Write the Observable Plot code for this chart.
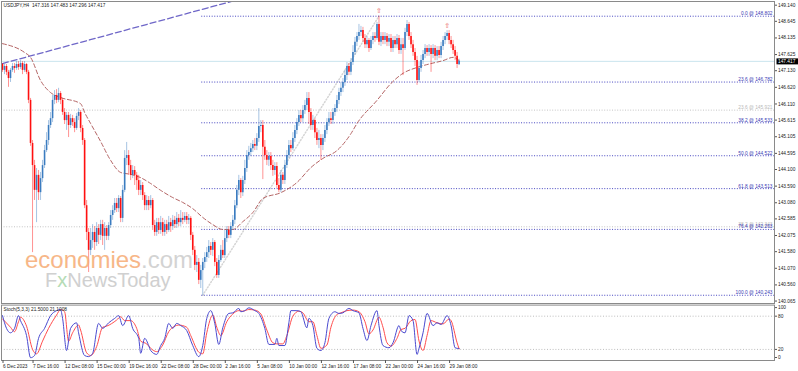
<!DOCTYPE html>
<html><head><meta charset="utf-8">
<script src="https://cdn.jsdelivr.net/npm/d3@7"></script>
<script src="https://cdn.jsdelivr.net/npm/@observablehq/plot@0.6"></script>
<style>
html,body{margin:0;padding:0;background:#fff}
#wrap{position:relative;width:798px;height:371px;overflow:hidden;background:#fff}
#main{position:absolute;left:0;top:0}
#stoch{position:absolute;left:0;top:303px}
#wm{position:absolute;left:0;top:0;pointer-events:none}
svg{overflow:visible}
</style></head><body>
<div id="wrap"><div id="main"></div><div id="stoch"></div><svg id="wm" width="798" height="371"></svg></div>
<script>
// ---- candle data (USDJPY H4) ----
const symbol = "USDJPY,H4";
const open = [147.32,147.14,147.26,147.08,146.89,147.14,147.26,147.20,147.32,147.23,147.35,147.14,147.32,147.08,146.22,144.90,144.22,143.46,143.92,143.39,
143.82,144.22,144.68,144.99,145.45,145.66,146.22,146.37,146.22,146.43,146.22,145.85,145.60,145.76,145.45,145.66,145.54,145.36,145.73,145.85,
145.36,144.99,142.99,142.17,141.62,141.92,142.17,141.86,142.29,142.08,142.41,142.05,142.29,142.05,142.38,142.69,142.84,143.06,142.90,143.21,
142.60,143.46,144.44,144.53,144.22,143.92,144.07,143.92,143.76,143.46,143.61,143.30,142.99,143.15,142.99,143.15,142.38,142.17,142.47,142.23,
142.47,142.17,142.41,142.23,142.47,142.35,142.54,142.41,142.60,142.47,142.60,142.54,142.66,142.54,142.60,142.08,141.62,141.16,141.25,140.70,
141.00,141.25,141.40,141.55,141.74,141.62,141.86,141.25,140.85,141.31,141.62,141.46,141.98,142.23,142.08,142.35,142.54,142.99,143.46,143.76,
143.39,143.76,144.13,144.53,144.62,144.74,144.87,144.81,145.05,145.42,145.45,144.78,144.53,144.38,144.50,144.22,144.07,144.19,143.61,143.46,
143.92,143.76,144.22,144.53,144.84,144.74,145.05,145.30,145.54,145.76,145.66,145.91,146.06,146.28,145.85,145.45,145.60,145.23,144.99,145.05,
144.84,145.05,145.30,145.54,145.66,145.60,145.85,145.97,146.22,146.46,146.59,146.77,146.98,147.26,147.08,147.38,147.69,148.00,148.18,148.30,
148.36,148.12,147.93,148.06,147.81,148.06,148.18,148.12,148.55,148.00,148.18,148.06,148.18,148.00,148.12,147.81,148.06,147.93,148.12,147.75,
147.93,147.81,148.30,148.55,148.18,147.93,147.69,147.44,146.83,147.20,147.44,147.63,147.81,147.69,147.81,147.63,147.81,147.57,147.75,147.60,
147.87,148.06,148.18,148.27,148.06,147.93,147.75,147.57,147.316];
const high = [147.35,147.32,147.32,147.14,147.20,147.35,147.35,147.41,147.41,147.44,147.41,147.41,147.35,147.14,146.28,144.99,144.38,144.13,144.07,144.01,
144.38,144.84,145.23,145.60,145.85,146.37,146.52,146.55,146.59,146.49,146.28,145.97,145.85,145.85,145.79,145.76,145.66,145.82,145.97,145.91,
145.45,145.05,143.15,142.29,142.29,142.41,142.35,142.47,142.41,142.54,142.54,142.47,142.38,142.47,142.84,142.99,143.21,143.21,143.30,143.27,
143.61,144.68,144.93,144.68,144.38,144.22,144.19,144.01,143.92,143.76,143.70,143.39,143.30,143.27,143.30,143.21,142.54,142.60,142.60,142.66,
142.60,142.54,142.54,142.66,142.60,142.69,142.66,142.78,142.72,142.84,142.78,142.78,142.78,142.72,142.66,142.17,141.74,141.46,141.37,141.16,
141.37,141.55,141.71,141.92,141.86,141.98,141.92,141.37,141.46,141.77,141.92,142.23,142.35,142.35,142.47,142.69,143.15,143.61,143.92,143.82,
143.89,144.38,144.68,144.81,144.90,144.99,145.05,145.20,145.97,145.60,145.60,144.99,144.68,144.62,144.62,144.38,144.31,144.31,143.82,144.07,
144.01,144.38,144.68,144.99,144.99,145.23,145.45,145.66,145.91,145.91,146.06,146.22,146.46,146.46,145.97,145.76,145.66,145.36,145.30,145.17,
145.17,145.45,145.66,145.85,145.85,145.97,146.09,146.37,146.59,146.77,146.89,147.14,147.38,147.35,147.50,147.90,148.15,148.30,148.55,148.49,
148.46,148.24,148.18,148.12,148.18,148.30,148.30,148.61,148.802,148.30,148.30,148.30,148.27,148.24,148.24,148.18,148.18,148.24,148.21,148.12,
148.12,148.43,148.67,148.61,148.30,148.06,147.81,147.57,147.38,147.60,147.75,147.93,147.90,147.93,147.90,147.93,147.90,147.87,147.87,148.00,
148.18,148.30,148.36,148.36,148.18,148.06,147.87,147.69,147.483];
const low = [147.08,147.01,146.98,146.62,146.77,147.08,147.05,147.14,147.14,147.17,147.01,147.08,147.01,146.12,144.81,141.55,143.15,142.47,143.15,143.15,
143.70,144.13,144.62,144.84,145.36,145.54,146.09,146.12,146.15,146.09,145.76,145.48,145.30,145.08,145.36,145.42,145.23,145.30,145.60,145.23,
144.84,142.90,141.92,140.94,141.46,141.68,141.62,141.74,141.80,141.92,141.77,141.62,141.92,141.92,142.29,142.54,142.75,142.78,142.78,142.47,
142.47,143.39,144.22,143.92,143.76,143.82,143.61,143.46,143.30,143.30,143.15,142.84,142.84,142.84,142.90,142.23,142.05,142.05,142.11,142.11,
142.05,142.05,142.11,142.17,142.17,142.23,142.29,142.29,142.35,142.35,142.41,142.47,142.41,142.41,141.92,141.46,141.00,140.94,140.57,140.45,
140.243,141.06,141.25,141.37,141.46,141.43,141.12,140.76,140.76,141.25,141.37,141.37,141.86,141.98,141.98,142.23,142.41,142.90,143.30,143.21,
143.27,143.64,144.01,144.38,144.50,144.62,144.68,144.68,144.93,145.23,143.79,144.38,144.22,144.19,144.07,143.89,143.92,143.52,143.39,143.39,
143.64,143.64,144.13,144.44,144.62,144.68,144.93,145.17,145.42,145.54,145.54,145.79,145.91,145.48,145.30,145.30,145.05,144.84,144.74,144.38,
144.68,144.93,145.17,145.42,145.48,145.48,145.73,145.85,146.09,146.34,146.46,146.65,146.83,146.98,146.98,147.29,147.60,147.87,148.06,148.18,
148.00,147.81,147.81,147.69,147.75,147.93,148.00,148.06,147.90,147.87,147.93,147.93,147.87,147.87,147.69,147.69,147.81,147.81,147.63,147.63,
146.98,147.75,148.18,148.06,147.81,147.57,147.26,146.68,146.77,147.08,147.32,147.50,147.57,147.57,147.08,147.50,147.44,147.44,147.50,147.50,
147.75,147.93,148.06,147.93,147.81,147.63,147.44,147.20,147.296];
const close = [147.14,147.26,147.08,146.89,147.14,147.26,147.20,147.32,147.23,147.35,147.14,147.32,147.08,146.22,144.90,144.22,143.46,143.92,143.39,143.82,
144.22,144.68,144.99,145.45,145.66,146.22,146.37,146.22,146.43,146.22,145.85,145.60,145.76,145.45,145.66,145.54,145.36,145.73,145.85,145.36,
144.99,142.99,142.17,141.62,141.92,142.17,141.86,142.29,142.08,142.41,142.05,142.29,142.05,142.38,142.69,142.84,143.06,142.90,143.21,142.60,
143.46,144.44,144.53,144.22,143.92,144.07,143.92,143.76,143.46,143.61,143.30,142.99,143.15,142.99,143.15,142.38,142.17,142.47,142.23,142.47,
142.17,142.41,142.23,142.47,142.35,142.54,142.41,142.60,142.47,142.60,142.54,142.66,142.54,142.60,142.08,141.62,141.16,141.25,140.70,141.00,
141.25,141.40,141.55,141.74,141.62,141.86,141.25,140.85,141.31,141.62,141.46,141.98,142.23,142.08,142.35,142.54,142.99,143.46,143.76,143.39,
143.76,144.13,144.53,144.62,144.74,144.87,144.81,145.05,145.42,145.45,144.78,144.53,144.38,144.50,144.22,144.07,144.19,143.61,143.46,143.92,
143.76,144.22,144.53,144.84,144.74,145.05,145.30,145.54,145.76,145.66,145.91,146.06,146.28,145.85,145.45,145.60,145.23,144.99,145.05,144.84,
145.05,145.30,145.54,145.66,145.60,145.85,145.97,146.22,146.46,146.59,146.77,146.98,147.26,147.08,147.38,147.69,148.00,148.18,148.30,148.36,
148.12,147.93,148.06,147.81,148.06,148.18,148.12,148.55,148.00,148.18,148.06,148.18,148.00,148.12,147.81,148.06,147.93,148.12,147.75,147.93,
147.81,148.30,148.55,148.18,147.93,147.69,147.44,146.83,147.20,147.44,147.63,147.81,147.69,147.81,147.63,147.81,147.57,147.75,147.60,147.87,
148.06,148.18,148.27,148.06,147.93,147.75,147.57,147.32,147.417];

// moving average (read at points)
const maIdx = [0,11,14,19,24,29,39,41,44,49,54,59,64,69,74,79,85,90,95,100,105,110,115,120,125,130,139,147,154,160,167,174,177,187,194,200,207,214,220,225,228];
const maVal = [147.96,147.69,147.54,146.83,146.46,146.31,146.12,145.85,145.51,144.96,144.38,144.01,143.95,143.85,143.67,143.46,143.24,143.09,142.90,142.63,142.41,142.26,142.26,142.50,142.78,143.21,143.39,143.70,144.16,144.44,144.68,145.20,145.51,146.22,146.74,147.05,147.23,147.35,147.44,147.54,147.44];

// trend line
const trendIdx = [0, 120];
const trendVal = [147.35, 149.35];

// Fibonacci retracement
const fibLevels = [0.0, 23.6, 38.2, 50.0, 61.8, 76.4, 100.0];
const fibPrices = [148.802, 146.782, 145.533, 144.522, 143.513, 142.263, 140.243];
const fibLowIdx = 100, fibHighIdx = 188, fibStartIdx = 99.5;
const oldFibLevels = [23.6, 38.2];
const oldFibPrices = [145.921, 142.343];

const fractalIdx = [188, 222];

// stochastic (5,3,3)
const kIdx = [0,2,4,6,8,9,12,14,16,18,21,24,27,29,30,32,34,37,38,41,43,45,48,50,53,56,58,60,63,65,68,69,71,73,74,77,79,81,83,85,87,89,92,95,98,100,102,104,106,108,110,113,115,118,119,121,123,126,128,131,133,136,137,138,141,143,144,147,149,152,153,155,157,159,161,163,166,168,170,173,175,178,180,182,184,187,188,190,193,195,198,199,201,203,205,207,208,210,212,215,217,219,222,224,226,227,228];
const kVal = [81,58,50,58,81,72,45,5,9,40,58,81,90,92,76,18,58,68,50,9,7,13,67,58,68,76,81,63,81,58,40,13,40,27,18,11,27,40,67,58,67,63,54,27,7,27,76,90,67,29,59,85,86,94,88,90,95,90,85,58,29,29,40,27,27,68,90,90,88,59,76,63,22,18,32,76,88,85,86,94,90,86,58,36,63,90,63,27,23,32,63,54,50,81,72,11,22,50,85,63,68,65,81,63,23,22,21.5];
const dIdx = [0,4,6,8,9,12,15,17,20,23,27,29,31,33,35,38,39,42,44,47,50,52,57,59,61,64,67,69,72,74,77,80,83,86,88,92,94,98,100,102,105,107,109,112,115,118,120,123,126,129,132,135,137,140,142,145,148,150,153,155,157,159,162,164,167,169,172,175,178,181,183,185,188,190,192,194,197,199,201,204,206,208,210,212,214,217,220,223,224,227,228];
const dVal = [75,60,52,70,78,62,20,12,35,58,82,92,88,35,50,64,55,14,9,25,60,62,73,79,72,72,58,35,30,22,16,28,52,62,64,60,45,15,12,50,82,60,45,70,84,90,89,92,91,84,55,32,30,30,45,80,89,86,70,70,45,22,28,60,83,86,90,91,88,70,48,55,78,60,32,26,40,56,58,72,74,35,18,45,72,68,66,75,72,32,21.1008];
const stochLevels = [80, 20];

// axes
const yTicks = [149.140,148.645,148.135,147.625,147.130,146.620,146.110,145.615,145.105,144.595,144.100,143.590,143.080,142.585,142.075,141.580,141.070,140.560,140.065];
const tickIdx = [0,15,31,47,63,79,95,111,127,143,159,175,191,207,223];
const tickLabels = ["6 Dec 2023","7 Dec 16:00","12 Dec 08:00","15 Dec 00:00","19 Dec 16:00","22 Dec 08:00","28 Dec 00:00","2 Jan 16:00","5 Jan 08:00","10 Jan 00:00","12 Jan 16:00","17 Jan 08:00","22 Jan 00:00","24 Jan 16:00","29 Jan 08:00"];

// ---- fonts ----
function hasFont(name){
  const c=document.createElement("canvas").getContext("2d");
  const s="abcdefghijklmnop 0123456789 WMQ";
  c.font="20px monospace"; const a=c.measureText(s).width;
  c.font=`20px "${name}", monospace`; const b=c.measureText(s).width;
  return Math.abs(a-b)>0.5;
}
const narrow = hasFont("Liberation Sans Narrow");
const FF = narrow ? "'Liberation Sans Narrow'" : "'Liberation Sans'";
const FS = narrow ? 5.8 : 4.8;

const n = close.length;
const bars = close.map((c,i)=>({i, o:open[i], h:high[i], l:low[i], c, up:c>=open[i]}));
const UP="#3b7cc0", DN="#ff1010";
const xDom=[-0.5,385.5];
const ma = maIdx.map((i,k)=>({i, v:maVal[k]}));
const trend = trendIdx.map((i,k)=>({i, v:trendVal[k]}));
const fib = fibLevels.map((lv,k)=>({lv, p:fibPrices[k]}));
const oldFib = oldFibLevels.map((lv,k)=>({lv, p:oldFibPrices[k]}));
const fibDiag = [{i:fibLowIdx, v:fibPrices[fibPrices.length-1]},{i:fibHighIdx, v:fibPrices[0]}];
const last = n-1;
const header = `${symbol}  ${open[last].toFixed(3)} ${high[last].toFixed(3)} ${low[last].toFixed(3)} ${close[last].toFixed(3)}`;

const main = Plot.plot({
  width:798, height:304, marginLeft:1, marginRight:24, marginTop:1, marginBottom:1,
  x:{domain:xDom, axis:null},
  y:{domain:[139.99,149.253], axis:null},
  style:{fontFamily:FF, fontSize:FS+"px", background:"transparent"},
  marks:[
    Plot.ruleY([close[last]], {stroke:"#c9e4ee", strokeWidth:1}),
    Plot.ruleY(oldFib, {y:"p", x1:xDom[0], x2:xDom[1], stroke:"#c4c4c4", strokeDasharray:"1,1.6"}),
    Plot.text(oldFib, {x:xDom[1], y:"p", text:d=>`${d.lv.toFixed(1)} @ ${d.p.toFixed(3)}`, textAnchor:"end", dx:-2, dy:-2.6, fill:"#b8b8b8"}),
    Plot.line(fibDiag, {x:"i", y:"v", stroke:"#d4d4d4", strokeDasharray:"1,2"}),
    Plot.ruleY(fib, {y:"p", x1:fibStartIdx, x2:xDom[1], stroke:"#4646c0", strokeDasharray:"1,1.6"}),
    Plot.text(fib, {x:xDom[1], y:"p", text:d=>`${d.lv.toFixed(1)} @ ${d.p.toFixed(3)}`, textAnchor:"end", dx:-2, dy:-2.6, fill:"#3a3ab4"}),
    Plot.line(trend, {x:"i", y:"v", stroke:"#6f67c8", strokeWidth:1.3, strokeDasharray:"6,3", clip:true}),
    Plot.line(ma, {x:"i", y:"v", stroke:"#b46464", strokeWidth:1, strokeDasharray:"4,2.5", curve:"monotone-x"}),
    Plot.ruleX(bars, {x:"i", y1:"l", y2:"h", stroke:d=>d.up?UP:DN, strokeOpacity:0.45, strokeWidth:1}),
    Plot.ruleX(bars, {x:"i", y1:"o", y2:"c", stroke:d=>d.up?UP:DN, strokeWidth:1.6}),
    Plot.text(fractalIdx, {x:d=>d, y:d=>high[d], text:()=>"⇧", dy:-5, fill:"#e85a5a", fontSize:7, fontFamily:"DejaVu Sans"}),
    Plot.frame({stroke:"#8a8a8a"}),
    Plot.axisY({anchor:"right", ticks:yTicks, tickFormat:d=>d.toFixed(3), tickSize:2, tickPadding:1.5, fill:"#1a1a1a", stroke:"#555", label:null}),
    Plot.text([header], {frameAnchor:"top-left", dx:2, dy:2.5, fill:"#222"}),
    Plot.text([close[last]], {y:d=>d, frameAnchor:"right", text:d=>d.toFixed(3), dx:3.5, textAnchor:"start", fill:"#fff", className:"pricebox"})
  ]
});
document.getElementById("main").appendChild(main);

// black box behind the current-price label
{
  const t = main.querySelector("g.pricebox text");
  if (t) {
    const bb = t.getBBox();
    const r = document.createElementNS("http://www.w3.org/2000/svg","rect");
    r.setAttribute("x", bb.x-1.5); r.setAttribute("y", bb.y-0.5);
    r.setAttribute("width", 798-(bb.x-1.5)); r.setAttribute("height", bb.height+1);
    r.setAttribute("fill","#000");
    if (t.getAttribute("transform")) r.setAttribute("transform", t.getAttribute("transform"));
    t.parentNode.insertBefore(r, t);
  }
}

const kPts = kIdx.map((i,k)=>({i, v:kVal[k]}));
const dPts = dIdx.map((i,k)=>({i, v:dVal[k]}));
const stochLabel = `Stoch(5,3,3) ${kVal[kVal.length-1].toFixed(4)} ${dVal[dVal.length-1].toFixed(4)}`;

const st = Plot.plot({
  width:798, height:68, marginLeft:1, marginRight:24, marginTop:1.6, marginBottom:11,
  x:{domain:xDom, axis:null},
  y:{domain:[0,100], axis:null},
  style:{fontFamily:FF, fontSize:FS+"px", background:"transparent"},
  marks:[
    Plot.ruleY(stochLevels, {stroke:"#bdbdbd", strokeDasharray:"1,1.8"}),
    Plot.line(dPts, {x:"i", y:"v", stroke:"#ff4c4c", strokeWidth:1, curve:"monotone-x"}),
    Plot.line(kPts, {x:"i", y:"v", stroke:"#4a4ad0", strokeWidth:1, curve:"monotone-x"}),
    Plot.frame({stroke:"#8a8a8a"}),
    Plot.axisY(stochLevels, {anchor:"right", tickSize:2, tickPadding:1.5, fill:"#1a1a1a", stroke:"#555", label:null}),
    Plot.axisY([100], {anchor:"right", tickSize:2, tickPadding:1.5, dy:2.5, fill:"#1a1a1a", stroke:"#555", label:null}),
    Plot.axisY([0], {anchor:"right", tickSize:2, tickPadding:1.5, dy:-3, fill:"#1a1a1a", stroke:"#555", label:null}),
    Plot.axisX(tickIdx, {anchor:"bottom", tickSize:3, tickPadding:1, tickFormat:d=>tickLabels[tickIdx.indexOf(d)], textAnchor:"start", dx:0.5, fill:"#1a1a1a", stroke:"#555", label:null}),
    Plot.text([stochLabel], {frameAnchor:"top-left", dx:2, dy:2, fill:"#222"})
  ]
});
document.getElementById("stoch").appendChild(st);

// watermark
{
  const wm = d3.select("#wm");
  const t1 = wm.append("text").attr("x",25).attr("y",268)
    .attr("font-family","'Liberation Sans', Arial, sans-serif").attr("font-size",24).attr("opacity",0.85);
  t1.append("tspan").attr("fill","#f6ab74").text("economies");
  t1.append("tspan").attr("fill","#cccccc").text(".com");
  const t2 = wm.append("text").attr("x",45).attr("y",287)
    .attr("font-family","'Liberation Sans', Arial, sans-serif").attr("font-size",20).attr("opacity",0.85);
  t2.append("tspan").attr("fill","#c8c8c8").text("F");
  t2.append("tspan").attr("fill","#a9d6a9").text("x");
  t2.append("tspan").attr("fill","#c8c8c8").text("NewsToday");
}
</script>
</body></html>
